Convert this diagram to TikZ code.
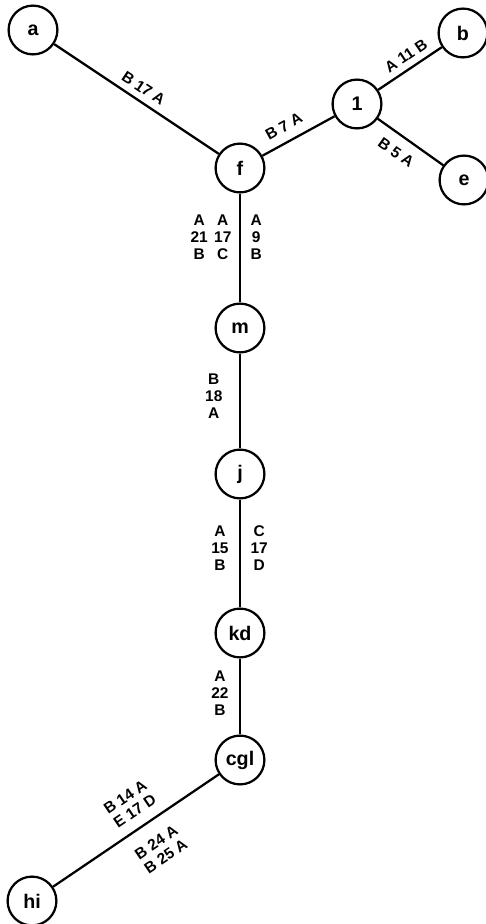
\documentclass[tikz,border=0pt]{standalone}
\usepackage{fontspec}
\setmainfont{Liberation Sans}
\usetikzlibrary{positioning}

\begin{document}
\begin{tikzpicture}[
    x=0.025cm, y=-0.025cm,
    line width=1.6pt,
    unit/.style={
        draw,
        circle,
        minimum size=1.22cm,
        inner sep=0pt,
        font=\fontsize{14}{14}\selectfont\bfseries
    },
    lab/.style={
        font=\fontsize{11}{12}\selectfont\bfseries,
        align=center,
        inner sep=1.5pt
    }
]
\useasboundingbox (0,0) rectangle (485,924);

% ---------------- Units ----------------
\node[unit] (a)   at (33, 30)   {a};
\node[unit] (b)   at (463, 33)  {b};
\node[unit] (n1)  at (357, 104) {1};
\node[unit] (e)   at (464, 180) {e};
\node[unit] (f)   at (240, 168) {f};
\node[unit] (m)   at (240, 328) {m};
\node[unit] (j)   at (240, 474) {j};
\node[unit] (kd)  at (240, 633) {kd};
\node[unit] (cgl) at (240, 760) {cgl};
\node[unit] (hi)  at (32, 901)  {hi};

% ---------------- Upper branches ----------------
\draw (a) -- node[lab, sloped, above=3pt] {B 17 A} (f);
\draw (f) -- node[lab, sloped, above=5pt, pos=.4] {B 7 A} (n1);
\draw (n1) -- node[lab, sloped, above=3pt, pos=.55] {A 11 B} (b);
\draw (n1) -- node[lab, sloped, below=6pt, pos=.43] {B 5 A} (e);

% ---------------- Trunk ----------------
\draw (f) -- node[lab, pos=.4, left=3.8pt] (fm) {A\\17\\C}
             node[lab, pos=.4, right=5.2pt] {A\\9\\B} (m);
\node[lab, left=0pt of fm] {A\\21\\B};

\draw (m) -- node[lab, pos=.45, left=10.2pt] {B\\18\\A} (j);

\draw (j) -- node[lab, pos=.45, left=5.9pt] {A\\15\\B}
             node[lab, pos=.45, right=5.2pt] {C\\17\\D} (kd);

\draw (kd) -- node[lab, pos=.46, left=5.9pt] {A\\22\\B} (cgl);

% ---------------- Lower branch ----------------
\draw (hi) -- node[lab, sloped, above=6pt, pos=.55] {B 14 A\\E 17 D}
              node[lab, sloped, below=9pt, pos=.55] {B 24 A\\B 25 A} (cgl);

\end{tikzpicture}
\end{document}
